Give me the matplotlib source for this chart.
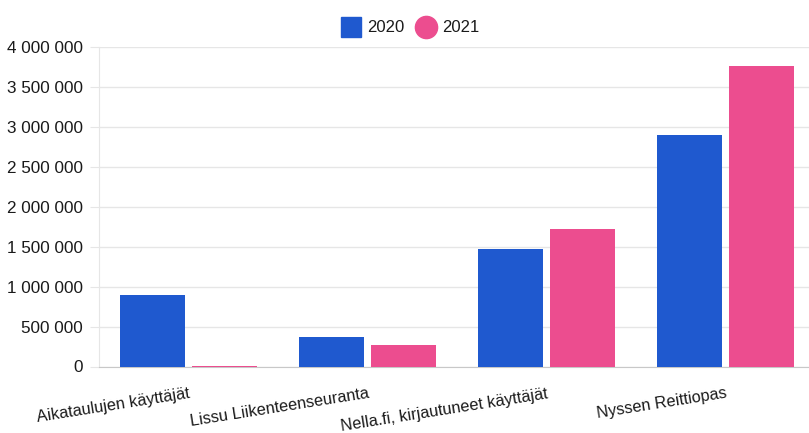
import matplotlib
matplotlib.use("Agg")
import matplotlib.pyplot as plt
from matplotlib.ticker import FuncFormatter, MultipleLocator
from matplotlib.lines import Line2D
import numpy as np

categories = ["Aikataulujen käyttäjät", "Lissu Liikenteenseuranta",
              "Nella.fi, kirjautuneet käyttäjät", "Nyssen Reittiopas"]
series_names = ["2020", "2021"]
v2020 = [894000, 373000, 1470000, 2896000]
v2021 = [10000, 268000, 1720000, 3760000]
colors = ["#1F59CF", "#EC4D8F"]

plt.rcParams['font.family'] = ['Liberation Sans', 'DejaVu Sans']

W, H = 809, 433
fig = plt.figure(figsize=(W / 100, H / 100), dpi=100)
left, right = 99, 809
bottom, top = 366.5, 46.7
ax = fig.add_axes([left / W, (H - bottom) / H, (right - left) / W, (bottom - top) / H])

x = np.arange(len(categories))
bw = 65 / 179
off = 36 / 179
ax.bar(x - off, v2020, width=bw, color=colors[0], zorder=3)
ax.bar(x + off, v2021, width=bw, color=colors[1], zorder=3)

ax.set_xlim(-0.5, 3.5 - 6 / 179)
ax.set_ylim(0, 4000000)
ax.yaxis.set_major_locator(MultipleLocator(500000))
ax.yaxis.set_major_formatter(FuncFormatter(lambda v, p: f"{int(v):,}".replace(",", " ")))
ax.grid(axis='y', color='#e6e6e6', linewidth=1, zorder=0)
ax.set_axisbelow(True)

for s in ['top', 'right']:
    ax.spines[s].set_visible(False)
ax.spines['left'].set_color('#e6e6e6')
ax.spines['bottom'].set_color('#c8c8c8')
ax.tick_params(axis='y', length=6.5, color='#e6e6e6', labelsize=12.3, pad=5, labelcolor='#1a1a1a')
ax.tick_params(axis='x', length=0, labelsize=11.7, pad=14, labelcolor='#1a1a1a')

ax.set_xticks(x)
ax.set_xticklabels(categories, rotation=9, ha='right', rotation_mode='anchor')

handles = [
    Line2D([], [], linestyle='none', marker='s', markersize=14.5, color=colors[0]),
    Line2D([], [], linestyle='none', marker='o', markersize=16, color=colors[1]),
]
fig.legend(handles, series_names, loc='center', bbox_to_anchor=(410 / W, (H - 28) / H),
           ncol=2, frameon=False, fontsize=12, handletextpad=0.35, columnspacing=0.7,
           handlelength=1.2, labelcolor='#1a1a1a')

fig.savefig("out.png", dpi=100)
